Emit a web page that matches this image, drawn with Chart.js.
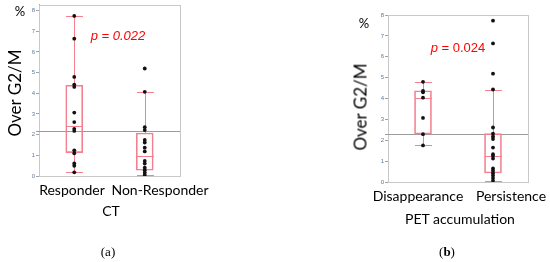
<!DOCTYPE html>
<html>
<head>
<meta charset="utf-8">
<script src="https://cdn.jsdelivr.net/npm/chart.js@4.4.0/dist/chart.umd.min.js"></script>
<style>
    body { margin: 0; width: 550px; height: 262px; background: #fff; position: relative; overflow: hidden;
           font-family: Lato, "Liberation Sans", Arial, sans-serif; color: #000; }
    canvas { position: absolute; }
    .t { position: absolute; white-space: nowrap; line-height: 1; transform: translate(-50%, -50%); }
    .cat { font-size: 14px; }
    .ytitle { font-size: 17px; transform: translate(-50%, -50%) rotate(-90deg); }
    .pct { font-size: 13px; }
    .pval { font-family: "Liberation Sans", Arial, sans-serif; font-size: 13px; color: #ff0000; }
    .panel { font-family: "Liberation Serif", "Times New Roman", serif; font-size: 13px; }
</style>
</head>
<body>
<canvas id="ctChart" width="200" height="185" style="left:0;top:0"></canvas>
<canvas id="petChart" width="200" height="190" style="left:340px;top:0"></canvas>

<div class="t pct" style="left:20px;top:11px">%</div>
<div class="t ytitle" style="left:14px;top:93px">Over G2/M</div>
<div class="t pval" style="left:118px;top:35px"><i>p = 0.022</i></div>
<div class="t cat" id="ct0" style="left:72px;top:190px"></div>
<div class="t cat" id="ct1" style="left:160px;top:190px"></div>
<div class="t cat" style="left:111px;top:211px">CT</div>
<div class="t panel" style="left:108px;top:251px">(a)</div>

<div class="t pct" style="left:364px;top:23px">%</div>
<div class="t ytitle" style="left:360px;top:107px">Over G2/M</div>
<div class="t pval" style="left:458px;top:47px"><i>p</i> = 0.024</div>
<div class="t cat" id="pet0" style="left:418px;top:196px"></div>
<div class="t cat" id="pet1" style="left:511px;top:196px"></div>
<div class="t cat" style="left:460px;top:219px">PET accumulation</div>
<div class="t panel" style="left:447px;top:251px">(<b>b</b>)</div>

<script>
// ---- data ----
const ctCategories = ['Responder', 'Non-Responder'];
const responderValues    = [7.74, 6.64, 4.79, 4.42, 4.31, 3.07, 2.61, 2.28, 2.18, 1.24, 1.10, 0.61, 0.49, 0.18];
const nonResponderValues = [5.20, 4.07, 2.36, 2.22, 1.74, 1.62, 1.37, 1.19, 0.73, 0.60, 0.40, 0.28, 0.16, 0.05];
const ctLow    = [0.18, 0.03];
const ctQ1     = [1.13, 0.28];
const ctMedian = [2.44, 0.96];
const ctQ3     = [4.39, 2.08];
const ctHigh   = [7.74, 4.07];
const ctMean   = 2.2;

const petCategories = ['Disappearance', 'Persistence'];
const disappearanceValues = [4.80, 4.37, 4.30, 4.04, 3.07, 2.29, 1.75];
const persistenceValues   = [7.73, 6.64, 5.19, 4.43, 2.61, 2.32, 2.18, 2.06, 1.65, 1.33, 1.24, 1.12,
                             0.65, 0.54, 0.42, 0.31, 0.19, 0.07];
const petLow    = [1.75, 0.05];
const petQ1     = [2.29, 0.43];
const petMedian = [4.04, 1.25];
const petQ3     = [4.37, 2.32];
const petHigh   = [4.80, 4.43];
const petMean   = 2.31;

const yTickValues = [0, 1, 2, 3, 4, 5, 6, 7, 8];

const BOX_PINK = '#f2808e';
const FRAME    = '#c9c9c9';
const AXIS     = '#a3a3a3';
const BOX_W    = 17;

// whiskers, caps, median and the grand mean line, all placed via the chart's scales
const boxDetailPlugin = {
    id: 'boxDetail',
    beforeDatasetsDraw(chart, args, opts) {
        const { ctx, chartArea, scales: { x, y } } = chart;
        const px = v => Math.round(y.getPixelForValue(v)) + 0.5;
        ctx.save();
        ctx.lineWidth = 1;

        // frame (top / right lighter than the axes)
        ctx.strokeStyle = FRAME;
        ctx.strokeRect(Math.round(chartArea.left) + 0.5, Math.round(chartArea.top) + 0.5,
                       Math.round(chartArea.right - chartArea.left), Math.round(chartArea.bottom - chartArea.top));

        ctx.strokeStyle = '#9c9c9c';
        ctx.beginPath();
        ctx.moveTo(chartArea.left - 3, px(opts.mean));
        ctx.lineTo(chartArea.right, px(opts.mean));
        ctx.stroke();

        ctx.strokeStyle = BOX_PINK;
        opts.q1.forEach((q1, i) => {
            const cx = Math.round(x.getPixelForValue(i)) + 0.5;
            const half = BOX_W / 2;
            ctx.beginPath();
            // whiskers
            ctx.moveTo(cx, px(opts.q3[i])); ctx.lineTo(cx, px(opts.high[i]));
            ctx.moveTo(cx, px(q1));         ctx.lineTo(cx, px(opts.low[i]));
            // caps
            ctx.moveTo(cx - half, px(opts.high[i])); ctx.lineTo(cx + half, px(opts.high[i]));
            ctx.moveTo(cx - half, px(opts.low[i]));  ctx.lineTo(cx + half, px(opts.low[i]));
            // median
            ctx.moveTo(cx - half, px(opts.median[i])); ctx.lineTo(cx + half, px(opts.median[i]));
            ctx.stroke();
        });
        ctx.restore();
    }
};

function buildBoxChart(canvas, cfg) {
    const points = [];
    cfg.groups.forEach((vals, i) => vals.forEach(v => points.push({ x: cfg.categories[i], y: v })));

    return new Chart(canvas, {
        type: 'bar',
        data: {
            labels: cfg.categories,
            datasets: [
                {
                    type: 'bar',
                    data: cfg.q1.map((q, i) => [q, cfg.q3[i]]),
                    backgroundColor: 'rgba(0,0,0,0)',
                    borderColor: BOX_PINK,
                    borderWidth: 1,
                    borderSkipped: false,
                    barThickness: BOX_W,
                    order: 2
                },
                {
                    type: 'scatter',
                    data: points,
                    pointRadius: 1.9,
                    pointBackgroundColor: '#111',
                    pointBorderWidth: 0,
                    order: 1
                }
            ]
        },
        options: {
            responsive: false,
            animation: false,
            layout: { padding: cfg.padding },
            plugins: {
                legend: { display: false },
                tooltip: { enabled: false },
                boxDetail: {
                    low: cfg.low, q1: cfg.q1, median: cfg.median, q3: cfg.q3, high: cfg.high, mean: cfg.mean
                }
            },
            scales: {
                x: {
                    type: 'category',
                    offset: true,
                    grid: { display: false },
                    ticks: { display: false },
                    border: { color: AXIS },
                    afterFit: a => { a.height = 0; }
                },
                y: {
                    min: 0,
                    max: cfg.yMax,
                    afterBuildTicks: a => { a.ticks = yTickValues.map(v => ({ value: v })); },
                    grid: { drawOnChartArea: false, tickLength: 3, color: AXIS },
                    border: { color: AXIS },
                    ticks: { font: { size: 6, family: 'Liberation Sans' }, color: '#5d7a99', padding: 1 },
                    afterFit: a => { a.width = 9; }
                }
            }
        },
        plugins: [boxDetailPlugin]
    });
}

buildBoxChart(document.getElementById('ctChart'), {
    categories: ctCategories,
    groups: [responderValues, nonResponderValues],
    low: ctLow, q1: ctQ1, median: ctMedian, q3: ctQ3, high: ctHigh, mean: ctMean,
    yMax: 8.29,
    padding: { left: 30, right: 20, top: 3, bottom: 9 }
});

buildBoxChart(document.getElementById('petChart'), {
    categories: petCategories,
    groups: [disappearanceValues, persistenceValues],
    low: petLow, q1: petQ1, median: petMedian, q3: petQ3, high: petHigh, mean: petMean,
    yMax: 8,
    padding: { left: 39, right: 12, top: 15, bottom: 8 }
});

ctCategories.forEach((c, i) => { document.getElementById('ct' + i).textContent = c; });
petCategories.forEach((c, i) => { document.getElementById('pet' + i).textContent = c; });
</script>
</body>
</html>
